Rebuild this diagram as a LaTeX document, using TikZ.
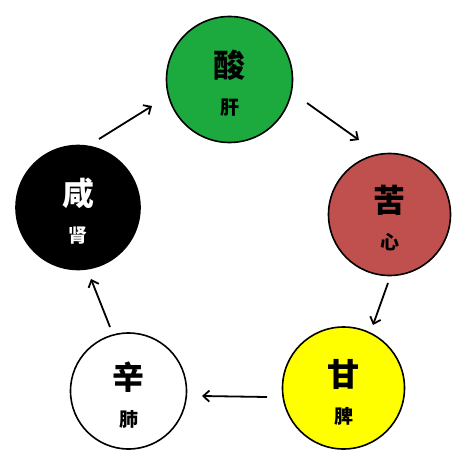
\documentclass[tikz,border=0pt]{standalone}
\usepackage{fontspec}
\newfontfamily\cjk{Noto Sans CJK SC}
\usetikzlibrary{arrows.meta}
\definecolor{gangreen}{RGB}{28,170,62}
\definecolor{xinred}{RGB}{192,80,77}
\definecolor{piyellow}{RGB}{255,255,0}

\begin{document}
\begin{tikzpicture}[x=1pt,y=-1pt,
		taste/.style={circle,draw=black,line width=1.6pt,inner sep=0pt},
		wei/.style={font=\cjk\bfseries\fontsize{32}{32}\selectfont},
		zang/.style={font=\cjk\bfseries\fontsize{19}{19}\selectfont},
		flow/.style={-{Straight Barb[length=6pt,width=11pt]},line width=1.8pt}]
			\useasboundingbox (0,0) rectangle (471,468);
			\node[taste,fill=gangreen,minimum size=126pt] (gan) at (229.5,79.5) {};
			\node[taste,fill=xinred,minimum size=122pt] (xin) at (389.5,214.5) {};
			\node[taste,fill=piyellow,minimum size=122pt] (pi) at (343.5,388) {};
			\node[taste,fill=white,minimum size=116pt] (fei) at (128.5,391) {};
			\node[taste,fill=black,minimum size=124pt] (shen) at (78,207.5) {};
			\node[wei] (suan) at ([yshift=14pt]gan.center) {酸};
			\node[zang] (gantxt) at ([yshift=-28pt]gan.center) {肝};
			\node[wei] (ku) at ([yshift=14pt]xin.center) {苦};
			\node[zang] (xintxt) at ([yshift=-28pt]xin.center) {心};
			\node[wei] (tian) at ([yshift=14pt]pi.center) {甘};
			\node[zang] (pitxt) at ([yshift=-28pt]pi.center) {脾};
			\node[wei] (xinw) at ([yshift=14pt]fei.center) {辛};
			\node[zang] (feitxt) at ([yshift=-28pt]fei.center) {肺};
			\node[wei,text=white] (xian) at ([yshift=14pt]shen.center) {咸};
			\node[zang,text=white] (shentxt) at ([yshift=-28pt]shen.center) {肾};
			% arrow ends
			\coordinate (g1) at (307,103);
			\coordinate (x1) at (359,140);
			\coordinate (x2) at (388,283);
			\coordinate (p1) at (373,325);
			\coordinate (p2) at (267,397);
			\coordinate (f1) at (202,396);
			\coordinate (f2) at (110,327);
			\coordinate (s1) at (91,279);
			\coordinate (s2) at (99,139);
			\coordinate (g2) at (152,106);
			\foreach \Von/\Nach in {g1/x1,x2/p1,p2/f1,f2/s1,s2/g2}
				\draw[flow] (\Von) -- (\Nach);
		\end{tikzpicture}
\end{document}
